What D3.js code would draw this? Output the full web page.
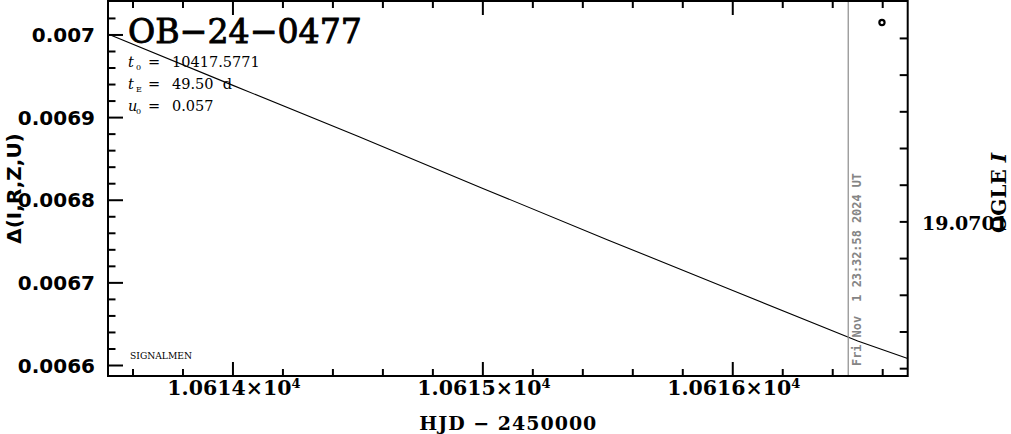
<!DOCTYPE html>
<html>
<head>
<meta charset="utf-8">
<script src="https://cdn.jsdelivr.net/npm/d3@7"></script>
<style>
  html, body { margin: 0; padding: 0; background: #fff; }
  svg { display: block; }
</style>
</head>
<body>
<svg id="chart" width="1011" height="434"></svg>
<script>
// ---- data ----
const modelHJD   = [10613.5, 10614.0, 10614.5, 10615.0, 10615.5, 10616.0, 10616.5, 10616.7];
const modelDelta = [0.0070013, 0.0069390, 0.0068773, 0.0068143, 0.0067520, 0.0066908, 0.0066297, 0.0066085];
const pointHJD   = [10616.597];
const pointDelta = [0.0070150];
const markerHJD  = 10616.462;
const markerText = "Fri Nov  1 23:32:58 2024 UT";

const xMajorTicks  = [10614, 10615, 10616];
const xMajorLabels = ["1.0614", "1.0615", "1.0616"];
const yMajorTicks  = [0.0066, 0.0067, 0.0068, 0.0069, 0.007];
const yMajorLabels = ["0.0066", "0.0067", "0.0068", "0.0069", "0.007"];
const rightTicks   = [19.07005, 19.07006, 19.07007, 19.07008, 19.07009, 19.0701, 19.07011, 19.07012, 19.07013, 19.07014];
const rightLabels  = ["19.0701"];
const rightLabelTicks = [19.0701];

const title = "OB\u221224\u22120477";
const xTitle = "HJD \u2212 2450000";
const yTitle = "\u0394(I,R,Z,U)";
const y2Title = "OGLE ";

// ---- layout ----
const L = 108, R = 907.7, T = 1, B = 376;
const svg = d3.select("#chart");

const x = d3.scaleLinear().domain([10613.5, 10616.7]).range([L, R]);
const y = d3.scaleLinear().domain([0.0065873, 0.0070411]).range([B, T]);
const y2 = d3.scaleLinear().domain([19.0700398, 19.0701420]).range([T, B]);

const xMinor = d3.range(10613.6 * 5, 10616.7 * 5).map(v => Math.round(v) / 5)
  .filter(v => v > 10613.5 && v < 10616.7 && !xMajorTicks.some(m => Math.abs(m - v) < 1e-6));
const yMinor = d3.range(329, 352).map(i => i * 0.00002)
  .filter(v => v > 0.0065873 && v < 0.0070411 && !yMajorTicks.some(m => Math.abs(m - v) < 1e-9));

const serif = "'DejaVu Serif', serif";
const sans = "'DejaVu Sans', sans-serif";

// ---- data line ----
const pts = modelHJD.map((h, i) => [h, modelDelta[i]]);
svg.append("path")
  .attr("d", d3.line().x(d => x(d[0])).y(d => y(d[1]))(pts))
  .attr("fill", "none").attr("stroke", "#000").attr("stroke-width", 1.1);

// ---- vertical marker line ----
svg.append("line")
  .attr("x1", x(markerHJD)).attr("x2", x(markerHJD))
  .attr("y1", T).attr("y2", B)
  .attr("stroke", "#8c8c8c").attr("stroke-width", 1.2);
svg.append("text")
  .attr("transform", `translate(${x(markerHJD) + 12.5},${B - 10}) rotate(-90)`)
  .attr("font-family", "'DejaVu Sans Mono', monospace")
  .attr("font-weight", "bold")
  .attr("font-size", 12.5)
  .attr("fill", "#858585")
  .attr("textLength", 193).attr("lengthAdjust", "spacingAndGlyphs")
  .style("white-space", "pre")
  .text(markerText);

// ---- data point ----
svg.selectAll("circle.pt").data(pointHJD).enter().append("circle")
  .attr("cx", d => x(d)).attr("cy", (d, i) => y(pointDelta[i]))
  .attr("r", 2.6).attr("fill", "none").attr("stroke", "#000").attr("stroke-width", 2.2);

// ---- frame ----
svg.append("rect").attr("x", L).attr("y", T).attr("width", R - L).attr("height", B - T)
  .attr("fill", "none").attr("stroke", "#000").attr("stroke-width", 2);

// ---- ticks ----
const tk = svg.append("g").attr("stroke", "#000").attr("stroke-width", 2);
function xTicks(vals, len) {
  vals.forEach(v => {
    tk.append("line").attr("x1", x(v)).attr("x2", x(v)).attr("y1", B).attr("y2", B - len);
    tk.append("line").attr("x1", x(v)).attr("x2", x(v)).attr("y1", T).attr("y2", T + len);
  });
}
xTicks(xMajorTicks, 14);
xTicks(xMinor, 7);
function yTicks(vals, len) {
  vals.forEach(v => {
    tk.append("line").attr("x1", L).attr("x2", L + len).attr("y1", y(v)).attr("y2", y(v));
  });
}
yTicks(yMajorTicks, 15);
yTicks(yMinor, 7.5);
rightTicks.forEach(v => {
  tk.append("line").attr("x1", R).attr("x2", R - 8).attr("y1", y2(v)).attr("y2", y2(v));
});

// ---- tick labels ----
yMajorTicks.forEach((v, i) => {
  svg.append("text").attr("x", 95).attr("y", y(v)).attr("dy", "0.36em")
    .attr("text-anchor", "end").attr("font-family", sans).attr("font-weight", "bold")
    .attr("font-size", 20).text(yMajorLabels[i]);
});
xMajorTicks.forEach((v, i) => {
  const t = svg.append("text").attr("x", x(v) + 1).attr("y", 395)
    .attr("text-anchor", "middle").attr("font-family", serif).attr("font-weight", "bold")
    .attr("font-size", 20.5);
  t.append("tspan").text(xMajorLabels[i] + "\u00d710");
  t.append("tspan").attr("dy", -7).attr("font-size", 13).text("4");
});
rightLabelTicks.forEach((v, i) => {
  svg.append("text").attr("x", 922).attr("y", y2(v) + 8)
    .attr("font-family", serif).attr("font-weight", "bold").attr("font-size", 19)
    .text(rightLabels[i]);
});

// ---- axis titles ----
svg.append("text").attr("x", (L + R) / 2).attr("y", 430)
  .attr("text-anchor", "middle").attr("font-family", serif).attr("font-weight", "bold")
  .attr("font-size", 19).attr("textLength", 177).attr("lengthAdjust", "spacing")
  .text(xTitle);
svg.append("text").attr("transform", `translate(21,${(T + B) / 2}) rotate(-90)`)
  .attr("text-anchor", "middle").attr("font-family", sans).attr("font-weight", "bold")
  .attr("font-size", 20).text(yTitle);
const y2t = svg.append("text").attr("transform", `translate(1006,193) rotate(-90)`)
  .attr("text-anchor", "middle").attr("font-family", serif).attr("font-weight", "bold")
  .attr("font-size", 20).style("white-space", "pre");
y2t.append("tspan").text(y2Title);
y2t.append("tspan").attr("font-style", "italic").text("I");

// ---- title & parameters ----
svg.append("text").attr("x", 128).attr("y", 43)
  .attr("font-family", serif).attr("font-size", 34)
  .attr("stroke", "#000").attr("stroke-width", 0.9)
  .attr("textLength", 234).attr("lengthAdjust", "spacingAndGlyphs").text(title);

const params = [
  { sym: "t", sub: "0", val: "10417.5771", base: 67 },
  { sym: "t", sub: "E", val: "49.50  d", base: 89 },
  { sym: "u", sub: "0", val: "0.057", base: 111 }
];
params.forEach(p => {
  const g = svg.append("text").attr("y", p.base).attr("font-family", serif).attr("font-size", 14.5)
    .style("white-space", "pre");
  g.append("tspan").attr("x", 128).attr("font-style", "italic").text(p.sym);
  g.append("tspan").attr("x", 136).attr("dy", 3).attr("font-size", 8).text(p.sub);
  g.append("tspan").attr("x", 148).attr("dy", -3).text("=");
  g.append("tspan").attr("x", 172).text(p.val);
});

svg.append("text").attr("x", 130).attr("y", 358.5)
  .attr("font-family", serif).attr("font-size", 8.5)
  .attr("textLength", 62).attr("lengthAdjust", "spacingAndGlyphs").text("SIGNALMEN");
</script>
</body>
</html>
